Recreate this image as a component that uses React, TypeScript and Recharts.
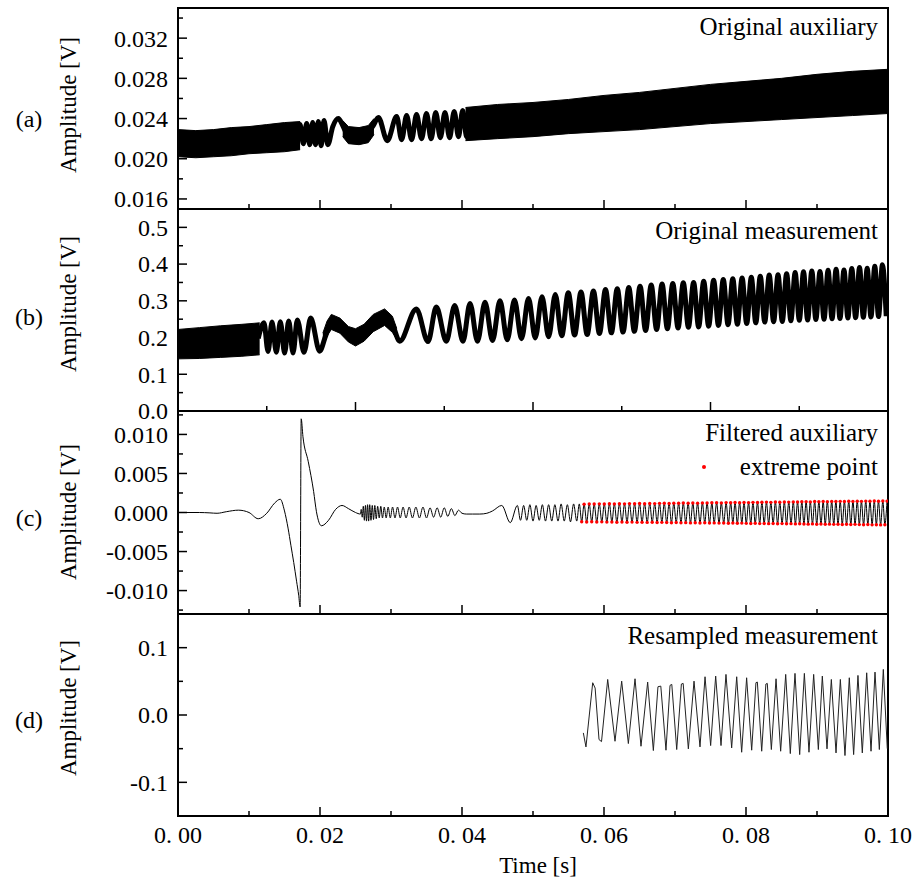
import React from "react";
import { ComposedChart, Line, Area, XAxis, YAxis, ReferenceArea } from "recharts";

const FONT = "'Liberation Serif', 'Times New Roman', Times, 'DejaVu Serif', serif";
const W = 920;
const H = 888;

// shared time axis
const timeTicks = [0, 0.02, 0.04, 0.06, 0.08, 0.1];
const timeMinor = [0.01, 0.03, 0.05, 0.07, 0.09];
const timeTickLabels = ["0. 00", "0. 02", "0. 04", "0. 06", "0. 08", "0. 10"];
const measTimeTicks = [0, 0.025, 0.05, 0.075, 0.1];
const measTimeMinor = [0.0125, 0.0375, 0.0625, 0.0875];

// (a) original auxiliary
const auxTicks = [0.016, 0.02, 0.024, 0.028, 0.032];
const auxMinor = [0.018, 0.022, 0.026, 0.03, 0.034];
const auxTickLabels = ["0.016", "0.020", "0.024", "0.028", "0.032"];
// dense parts: [t, low, high]
const auxBandEarly: [number, number, number][] = [
  [0, 0.0202, 0.0229], [0.0025, 0.0201, 0.0228], [0.005, 0.0202, 0.0229],
  [0.0075, 0.0203, 0.0231], [0.01, 0.0205, 0.0232], [0.0125, 0.0206, 0.0234],
  [0.015, 0.0207, 0.0236], [0.0172, 0.0209, 0.0237],
];
const auxBandMid: [number, number, number][] = [
  [0.0232, 0.0222, 0.0238], [0.024, 0.0215, 0.0232], [0.0255, 0.0214, 0.0231],
  [0.0268, 0.0216, 0.0233], [0.0276, 0.0224, 0.024],
];
const auxBandLate: [number, number, number][] = [
  [0.0405, 0.0218, 0.0251], [0.045, 0.022, 0.0254], [0.05, 0.0222, 0.0256],
  [0.055, 0.0225, 0.0259], [0.06, 0.0227, 0.0263], [0.065, 0.0229, 0.0266],
  [0.07, 0.0232, 0.027], [0.075, 0.0235, 0.0274], [0.08, 0.0237, 0.0277],
  [0.085, 0.0239, 0.028], [0.09, 0.0241, 0.0284], [0.095, 0.0243, 0.0287],
  [0.1, 0.0245, 0.0289],
];
// visible slow wave: [t, v]
const auxWave: [number, number][] = [
  [0.017, 0.0224], [0.01718, 0.0234], [0.01765, 0.0215], [0.01812, 0.0235],
  [0.01855, 0.0214], [0.01897, 0.0236], [0.01937, 0.0214], [0.01977, 0.0237],
  [0.02016, 0.0213], [0.02056, 0.0238], [0.0211, 0.0214], [0.0218, 0.0232],
  [0.02258, 0.024], [0.0232, 0.0233], [0.0237, 0.0226], [0.0245, 0.0223],
  [0.0255, 0.0222], [0.0265, 0.0224], [0.0275, 0.0233], [0.02822, 0.0241],
  [0.02948, 0.0218], [0.0308, 0.0242], [0.0315, 0.0219], [0.0322, 0.0243],
  [0.0329, 0.0219], [0.0336, 0.0244], [0.0343, 0.022], [0.035, 0.0245],
  [0.03565, 0.022], [0.0363, 0.0246], [0.03695, 0.0221], [0.0376, 0.0246],
  [0.03825, 0.0221], [0.0389, 0.0247], [0.0395, 0.0222], [0.0401, 0.0248],
  [0.04065, 0.0222], [0.0412, 0.0248], [0.0418, 0.0223],
];

// (b) original measurement
const measTicks = [0, 0.1, 0.2, 0.3, 0.4, 0.5];
const measMinor = [0.05, 0.15, 0.25, 0.35, 0.45];
const measTickLabels = ["0.0", "0.1", "0.2", "0.3", "0.4", "0.5"];
const measBandEarly: [number, number, number][] = [
  [0, 0.142, 0.222], [0.003, 0.143, 0.227], [0.006, 0.146, 0.232],
  [0.009, 0.149, 0.236], [0.0115, 0.153, 0.24],
];
const measBumpBand: [number, number, number][] = [
  [0.0204, 0.18, 0.212], [0.021, 0.205, 0.245], [0.0216, 0.222, 0.263],
  [0.0228, 0.212, 0.253], [0.024, 0.188, 0.23], [0.025, 0.177, 0.224],
  [0.0262, 0.19, 0.236], [0.0275, 0.216, 0.263], [0.0291, 0.233, 0.278],
  [0.0302, 0.214, 0.258], [0.0308, 0.195, 0.225],
];
const measWave: [number, number][] = [
  [0.0113, 0.198], [0.01211, 0.24], [0.01268, 0.162], [0.01324, 0.242],
  [0.01385, 0.16], [0.01441, 0.243], [0.01502, 0.158], [0.01559, 0.245],
  [0.0162, 0.158], [0.01681, 0.248], [0.01775, 0.16], [0.01869, 0.253],
  [0.01995, 0.163], [0.0208, 0.205], [0.0216, 0.24], [0.0228, 0.232],
  [0.024, 0.208], [0.025, 0.2], [0.0262, 0.212], [0.0275, 0.238],
  [0.0291, 0.255], [0.0302, 0.236], [0.03122, 0.19], [0.03357, 0.278],
  [0.03521, 0.189], [0.03638, 0.283], [0.03779, 0.19], [0.03897, 0.287],
  [0.04014, 0.19],
  [0.04113, 0.293], [0.04218, 0.19], [0.04324, 0.296], [0.0443, 0.192],
  [0.04535, 0.3], [0.04637, 0.194], [0.04739, 0.302], [0.04838, 0.197],
  [0.04937, 0.306], [0.05032, 0.199], [0.05127, 0.311], [0.0522, 0.202],
  [0.05314, 0.317], [0.05405, 0.205], [0.05497, 0.322], [0.05586, 0.207],
  [0.05676, 0.324], [0.05763, 0.208], [0.05851, 0.327], [0.05936, 0.211],
  [0.06021, 0.331], [0.06104, 0.213], [0.06187, 0.333], [0.06268, 0.215],
  [0.06349, 0.336], [0.06428, 0.217], [0.06508, 0.34], [0.06586, 0.219],
  [0.06665, 0.343], [0.06741, 0.222], [0.06818, 0.346], [0.06893, 0.224],
  [0.06969, 0.347], [0.07043, 0.226], [0.07117, 0.349], [0.07189, 0.228],
  [0.07262, 0.35], [0.07333, 0.229], [0.07404, 0.353], [0.07474, 0.231],
  [0.07544, 0.356], [0.07612, 0.233], [0.0768, 0.358], [0.07747, 0.235],
  [0.07814, 0.36], [0.07879, 0.236], [0.07945, 0.362], [0.0801, 0.238],
  [0.08075, 0.364], [0.08138, 0.24], [0.08201, 0.367], [0.08264, 0.242],
  [0.08327, 0.37], [0.08389, 0.243], [0.08451, 0.371], [0.08511, 0.244],
  [0.08572, 0.374], [0.08632, 0.246], [0.08692, 0.377], [0.08751, 0.247],
  [0.0881, 0.379], [0.08868, 0.248], [0.08927, 0.381], [0.08984, 0.249],
  [0.09042, 0.38], [0.09099, 0.25], [0.09156, 0.383], [0.09212, 0.251],
  [0.09269, 0.386], [0.09324, 0.252], [0.0938, 0.384], [0.09435, 0.253],
  [0.0949, 0.388], [0.09544, 0.254], [0.09599, 0.391], [0.09653, 0.255],
  [0.09707, 0.389], [0.0976, 0.256], [0.09814, 0.394], [0.09867, 0.257],
  [0.09921, 0.398], [0.09975, 0.258],
];

// (c) filtered auxiliary
const filtTicks = [-0.01, -0.005, 0, 0.005, 0.01];
const filtMinor = [-0.0125, -0.0075, -0.0025, 0.0025, 0.0075, 0.0125];
const filtTickLabels = ["-0.010", "-0.005", "0.000", "0.005", "0.010"];
const filteredSmooth: [number, number][] = [
  [0, 0], [0.003, 0], [0.0045, -0.00005], [0.0055, -0.0001], [0.0068, 0.0001],
  [0.0085, 0.0003], [0.01, 0], [0.0113, -0.0008], [0.0125, -0.0001],
  [0.0136, 0.0012], [0.0144, 0.0017], [0.015, 0.0002], [0.0155, -0.002],
  [0.0159, -0.0042], [0.0163, -0.0064], [0.0167, -0.0088], [0.017, -0.0106],
  [0.0172, -0.0121], [0.01735, 0.012], [0.0176, 0.0097], [0.01835, 0.0065],
  [0.0191, 0.0027], [0.0195, 0.0001], [0.0202, -0.0017], [0.0212, -0.001],
  [0.0222, 0.0004], [0.0231, 0.0009], [0.024, 0.0005], [0.025, 0], [0.0257, -0.0002],
];
const filteredRinging: [number, number][] = [
  [0.0258, 0.0004], [0.02595, -0.0006], [0.0261, 0.0008], [0.02625, -0.001],
  [0.0264, 0.0009], [0.02655, -0.0011], [0.0267, 0.001], [0.02685, -0.0011],
  [0.027, 0.001], [0.02718, -0.001], [0.02736, 0.0009], [0.02754, -0.0009],
  [0.02772, 0.0009], [0.02792, -0.0008], [0.02812, 0.0008], [0.02834, -0.0007],
  [0.02856, 0.0008], [0.0288, -0.0007], [0.02905, 0.0007], [0.02932, -0.0007],
  [0.0296, 0.0007], [0.0299, -0.0007], [0.03022, 0.0007], [0.03056, -0.0007],
  [0.03092, 0.0007], [0.0313, -0.0007], [0.0317, 0.0007], [0.03212, -0.0007],
  [0.03256, 0.0007], [0.03302, -0.0007], [0.0335, 0.0007], [0.034, -0.0007],
  [0.0345, 0.0007], [0.035, -0.0007], [0.0355, 0.0006], [0.036, -0.0006],
  [0.0365, 0.0006], [0.037, -0.0006], [0.0375, 0.0006], [0.038, -0.0005],
  [0.0385, 0.0005], [0.039, -0.0004], [0.0395, 0.0003], [0.04, -0.0001],
  [0.0406, -0.0002], [0.0415, -0.0002], [0.0425, -0.0002], [0.0435, -0.0001],
  [0.0443, 0.0002], [0.0456, 0.0009], [0.0468, -0.0013], [0.0478, 0.0009],
  [0.04824, -0.001], [0.04868, 0.0009], [0.04912, -0.001], [0.04956, 0.001],
  [0.05, -0.0011], [0.05044, 0.0009], [0.05088, -0.001], [0.05132, 0.001],
  [0.05176, -0.0011], [0.0522, 0.001], [0.05264, -0.0011], [0.05308, 0.001],
  [0.05352, -0.0011], [0.05396, 0.0011], [0.0544, -0.0011], [0.05484, 0.001],
  [0.05528, -0.0012], [0.05572, 0.0011], [0.05616, -0.0011], [0.05652, 0.0011],
];
const extremeTop: [number, number][] = [
  [0.0572, 0.00107], [0.05792, 0.0011], [0.05862, 0.00108], [0.05934, 0.00111],
  [0.06004, 0.00109], [0.06076, 0.00112], [0.06146, 0.0011], [0.06217, 0.00113],
  [0.06289, 0.00111], [0.06359, 0.00114], [0.06431, 0.00112], [0.06501, 0.00115],
  [0.06572, 0.00113], [0.06644, 0.00116], [0.06714, 0.00114],
  [0.06782, 0.00117], [0.06849, 0.00119], [0.06917, 0.00116], [0.06983, 0.0012],
  [0.07051, 0.00118], [0.07117, 0.00121], [0.07185, 0.00119], [0.07251, 0.00122],
  [0.07318, 0.0012], [0.07386, 0.00123], [0.07452, 0.00121], [0.07519, 0.00124],
  [0.07586, 0.00126], [0.07653, 0.00123], [0.0772, 0.00127],
  [0.07784, 0.00125], [0.07846, 0.00128], [0.0791, 0.00126], [0.07972, 0.00129],
  [0.08036, 0.00127], [0.08098, 0.0013], [0.08162, 0.00128], [0.08224, 0.00131],
  [0.08288, 0.00133], [0.0835, 0.0013], [0.08414, 0.00134], [0.08476, 0.00132],
  [0.0854, 0.00135], [0.08602, 0.00133], [0.08666, 0.00136],
  [0.08726, 0.00134], [0.08786, 0.00137], [0.08847, 0.00139], [0.08906, 0.00136],
  [0.08967, 0.0014], [0.09026, 0.00138], [0.09087, 0.00141], [0.09146, 0.00139],
  [0.09207, 0.00142], [0.09266, 0.0014], [0.09327, 0.00143], [0.09386, 0.00141],
  [0.09447, 0.00144], [0.09506, 0.00142], [0.09567, 0.00145], [0.09626, 0.00143],
  [0.09687, 0.00146], [0.09746, 0.00144], [0.09807, 0.00147], [0.09866, 0.00145],
  [0.09927, 0.00148], [0.09986, 0.00146],
];
const extremeBottom: [number, number][] = [
  [0.05686, -0.00118], [0.05756, -0.00121], [0.05827, -0.00119], [0.05898, -0.00122],
  [0.05969, -0.0012], [0.0604, -0.00123], [0.06111, -0.00121], [0.06181, -0.00124],
  [0.06253, -0.00122], [0.06324, -0.00125], [0.06395, -0.00123], [0.06466, -0.00126],
  [0.06536, -0.00124], [0.06608, -0.00127], [0.06679, -0.00125],
  [0.06748, -0.00128], [0.06815, -0.00126], [0.06883, -0.00129], [0.0695, -0.00131],
  [0.07017, -0.00128], [0.07084, -0.00132], [0.07151, -0.0013], [0.07218, -0.00133],
  [0.07285, -0.00131], [0.07352, -0.00134], [0.07419, -0.00132], [0.07486, -0.00135],
  [0.07552, -0.00133], [0.0762, -0.00136], [0.07686, -0.00134],
  [0.07752, -0.00137], [0.07815, -0.00135], [0.07878, -0.00138], [0.07941, -0.00136],
  [0.08004, -0.00139], [0.08067, -0.00141], [0.0813, -0.00138], [0.08193, -0.00142],
  [0.08256, -0.0014], [0.08319, -0.00143], [0.08382, -0.00141], [0.08445, -0.00144],
  [0.08508, -0.00142], [0.08571, -0.00145], [0.08634, -0.00143],
  [0.08696, -0.00146], [0.08756, -0.00144], [0.08816, -0.00147], [0.08876, -0.00149],
  [0.08936, -0.00146], [0.08996, -0.0015], [0.09056, -0.00148], [0.09116, -0.00151],
  [0.09176, -0.00149], [0.09236, -0.00152], [0.09296, -0.0015], [0.09356, -0.00153],
  [0.09416, -0.00151], [0.09476, -0.00154], [0.09536, -0.00152], [0.09596, -0.00155],
  [0.09656, -0.00157], [0.09716, -0.00154], [0.09776, -0.00158], [0.09836, -0.00156],
  [0.09896, -0.00159], [0.09956, -0.00157],
];

// (d) resampled measurement
const resTicks = [-0.1, 0, 0.1];
const resMinor = [-0.05, 0.05];
const resTickLabels = ["-0.1", "0.0", "0.1"];
const resampled: [number, number][] = [
  [0.05709, -0.0266], [0.05746, -0.0474], [0.05841, 0.0479], [0.05875, 0.04],
  [0.0593, -0.0365], [0.05965, -0.0395], [0.06052, 0.0528], [0.06155, -0.039],
  [0.06249, 0.0503], [0.06343, -0.0424], [0.06437, 0.0538], [0.06521, -0.0464],
  [0.06615, 0.0489], [0.06695, -0.0528], [0.0676, 0.042], [0.068, 0.0429],
  [0.06873, -0.0523], [0.0693, 0.044], [0.06955, 0.0454], [0.07024, -0.0513],
  [0.0709, 0.046], [0.07115, 0.0469], [0.07188, -0.0503], [0.07268, 0.0503],
  [0.07352, -0.0474], [0.07423, 0.0568], [0.07502, -0.0454], [0.07573, 0.0578],
  [0.07648, -0.0454], [0.07718, 0.0603], [0.07798, -0.0489], [0.07869, 0.0568],
  [0.07939, -0.0553], [0.08009, 0.0553], [0.0808, -0.0523], [0.0814, 0.048],
  [0.0816, 0.0489], [0.08221, -0.0538], [0.0828, 0.046], [0.083, 0.0469],
  [0.08357, -0.0513], [0.08423, 0.0538], [0.08488, -0.0538], [0.08559, 0.0603],
  [0.08624, -0.0573], [0.0869, 0.0618], [0.08756, -0.0588], [0.08822, 0.0618],
  [0.08887, -0.0553], [0.08953, 0.0603], [0.09019, -0.0513], [0.09075, 0.0578],
  [0.09141, -0.0503], [0.09202, 0.0528], [0.09268, -0.0563], [0.09329, 0.0528],
  [0.09394, -0.0602], [0.09455, 0.0553], [0.09516, -0.0588], [0.09577, 0.0588],
  [0.09638, -0.0563], [0.097, 0.0627], [0.09761, -0.0538], [0.09817, 0.0637],
  [0.09878, -0.0513], [0.09934, 0.0677], [0.0999, -0.05],
];

const pts = (rows: [number, number][]) => rows.map(([t, v]) => ({ t, v }));
const band = (rows: [number, number, number][]) => rows.map(([t, lo, hi]) => ({ t, range: [lo, hi] }));
const byTime = (a: { t: number }, b: { t: number }) => a.t - b.t;

const extremes = pts([...extremeTop, ...extremeBottom]).sort(byTime);
const filteredLine = [...pts(filteredSmooth), ...pts(filteredRinging), ...extremes].sort(byTime);

type PanelSpec = {
  top: number;
  bottom: number;
  domain: [number, number];
  yTicks: number[];
  yMinor: number[];
  yLabels: string[];
  xTicks: number[];
  xMinor: number[];
  xLabels?: string[];
};

const panels: PanelSpec[] = [
  { top: 8, bottom: 209, domain: [0.015, 0.035], yTicks: auxTicks, yMinor: auxMinor, yLabels: auxTickLabels, xTicks: timeTicks, xMinor: timeMinor },
  { top: 209, bottom: 411, domain: [0, 0.55], yTicks: measTicks, yMinor: measMinor, yLabels: measTickLabels, xTicks: measTimeTicks, xMinor: measTimeMinor },
  { top: 411, bottom: 614, domain: [-0.013, 0.013], yTicks: filtTicks, yMinor: filtMinor, yLabels: filtTickLabels, xTicks: timeTicks, xMinor: timeMinor },
  { top: 614, bottom: 816, domain: [-0.15, 0.15], yTicks: resTicks, yMinor: resMinor, yLabels: resTickLabels, xTicks: timeTicks, xMinor: timeMinor, xLabels: timeTickLabels },
];

const same = (a: number, b: number) => Math.abs(a - b) < 1e-9;
const textStyle = { fontFamily: FONT };

const makeYTick = (majors: number[], labels: string[]) => (props: any) => {
  const { x, y, payload } = props;
  const i = majors.findIndex((m) => same(m, payload.value));
  const len = i >= 0 ? 9 : 5;
  return (
    <g>
      <line x1={x} x2={x + len} y1={y} y2={y} stroke="#000" strokeWidth={1.5} />
      {i >= 0 && (
        <text x={x - 10} y={y} dy="0.35em" textAnchor="end" fontSize={24} style={textStyle} fill="#000">
          {labels[i]}
        </text>
      )}
    </g>
  );
};

const makeXTick = (majors: number[], labels?: string[]) => (props: any) => {
  const { x, y, payload } = props;
  const i = majors.findIndex((m) => same(m, payload.value));
  const len = i >= 0 ? 9 : 5;
  return (
    <g>
      <line x1={x} x2={x} y1={y} y2={y - len} stroke="#000" strokeWidth={1.5} />
      {labels && i >= 0 && (
        <text x={x} y={y + 27} textAnchor="middle" fontSize={24} style={textStyle} fill="#000">
          {labels[i]}
        </text>
      )}
    </g>
  );
};

const PanelChart = ({ p, children }: { p: PanelSpec; children: React.ReactNode }) => {
  const yAll = [...p.yTicks, ...p.yMinor].sort((a, b) => a - b);
  const xAll = [...p.xTicks, ...p.xMinor].sort((a, b) => a - b);
  return (
    <div style={{ position: "absolute", left: 0, top: 0 }}>
      <ComposedChart width={W} height={H} margin={{ top: p.top, bottom: H - p.bottom - 30, left: 98, right: 32 }}>
        <XAxis
          dataKey="t"
          type="number"
          domain={[0, 0.1]}
          allowDataOverflow
          ticks={xAll}
          interval={0}
          height={30}
          tickSize={0}
          tickMargin={0}
          tickLine={false}
          axisLine={false}
          tick={makeXTick(p.xTicks, p.xLabels)}
        />
        <YAxis
          type="number"
          domain={p.domain}
          allowDataOverflow
          ticks={yAll}
          interval={0}
          width={80}
          tickSize={0}
          tickMargin={0}
          tickLine={false}
          axisLine={false}
          tick={makeYTick(p.yTicks, p.yLabels)}
        />
        {children}
        <ReferenceArea x1={0} x2={0.1} y1={p.domain[0]} y2={p.domain[1]} fill="none" fillOpacity={0} stroke="#000" strokeWidth={2} />
      </ComposedChart>
    </div>
  );
};

const bandProps = { dataKey: "range", type: "linear" as const, stroke: "#000", strokeWidth: 1, fill: "#000", fillOpacity: 1, isAnimationActive: false, dot: false, activeDot: false };

export default function App() {
  const letters = ["(a)", "(b)", "(c)", "(d)"];
  const letterY = [119, 317, 518, 720];
  const ampY = [105, 304, 512, 708];
  const titles = [
    { text: "Original auxiliary", y: 35 },
    { text: "Original measurement", y: 239 },
    { text: "Filtered auxiliary", y: 441 },
    { text: "extreme point", y: 475 },
    { text: "Resampled measurement", y: 644 },
  ];
  return (
    <div style={{ position: "absolute", left: 0, top: 0, width: W, height: H, background: "#fff" }}>
      <PanelChart p={panels[0]}>
        <Area data={band(auxBandEarly)} {...bandProps} />
        <Area data={band(auxBandMid)} {...bandProps} />
        <Area data={band(auxBandLate)} {...bandProps} />
        <Line data={pts(auxWave)} dataKey="v" type="monotone" stroke="#000" strokeWidth={5} dot={false} activeDot={false} isAnimationActive={false} />
      </PanelChart>
      <PanelChart p={panels[1]}>
        <Area data={band(measBandEarly)} {...bandProps} />
        <Area data={band(measBumpBand)} {...bandProps} />
        <Line data={pts(measWave)} dataKey="v" type="monotone" stroke="#000" strokeWidth={5} dot={false} activeDot={false} isAnimationActive={false} />
      </PanelChart>
      <PanelChart p={panels[2]}>
        <Line data={filteredLine} dataKey="v" type="monotone" stroke="#000" strokeWidth={1} dot={false} activeDot={false} isAnimationActive={false} />
        <Line data={extremes} dataKey="v" stroke="none" dot={{ r: 1.7, fill: "#ff0000", stroke: "none" }} activeDot={false} isAnimationActive={false} />
      </PanelChart>
      <PanelChart p={panels[3]}>
        <Line data={pts(resampled)} dataKey="v" type="linear" stroke="#222" strokeWidth={1} dot={false} activeDot={false} isAnimationActive={false} />
      </PanelChart>
      <svg width={W} height={H} style={{ position: "absolute", left: 0, top: 0, pointerEvents: "none" }}>
        {letters.map((l, i) => (
          <text key={l} x={29} y={letterY[i]} dy="0.35em" textAnchor="middle" fontSize={24} style={textStyle}>
            {l}
          </text>
        ))}
        {ampY.map((cy, i) => (
          <text key={i} x={68} y={cy} dy="0.35em" textAnchor="middle" fontSize={23} style={textStyle} transform={`rotate(-90, 68, ${cy})`}>
            Amplitude [V]
          </text>
        ))}
        {titles.map((tt) => (
          <text key={tt.text} x={878} y={tt.y} textAnchor="end" fontSize={25} style={textStyle}>
            {tt.text}
          </text>
        ))}
        <circle cx={704} cy={467} r={2} fill="#ff0000" />
        <text x={538} y={873} textAnchor="middle" fontSize={23} style={textStyle}>Time [s]</text>
      </svg>
    </div>
  );
}
